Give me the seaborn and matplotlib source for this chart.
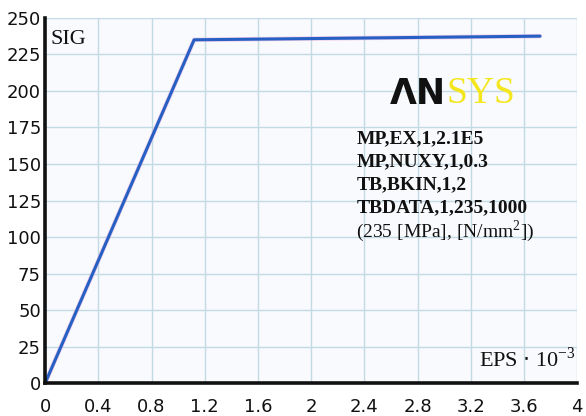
import pandas as pd
import matplotlib.pyplot as plt
import seaborn as sns

# stress-strain curve
eps = [0.0, 1.12, 3.72]        # strain * 10^-3
sig = [0.0, 235.0, 237.5]      # stress [MPa]
x_ticks = [0, 0.4, 0.8, 1.2, 1.6, 2, 2.4, 2.8, 3.2, 3.6, 4]
x_labels = ["0", "0.4", "0.8", "1.2", "1.6", "2", "2.4", "2.8", "3.2", "3.6", "4"]
y_ticks = [0, 25, 50, 75, 100, 125, 150, 175, 200, 225, 250]
commands = ["MP,EX,1,2.1E5", "MP,NUXY,1,0.3", "TB,BKIN,1,2", "TBDATA,1,235,1000"]

df = pd.DataFrame({"EPS": eps, "SIG": sig})

sns.set_style("whitegrid")
plt.rcParams["font.family"] = ["DejaVu Sans"]

fig = plt.figure(figsize=(5.86, 4.16), dpi=100)
ax = fig.add_axes([0.077, 0.079, 0.908, 0.878])
ax.set_facecolor("#f9fafd")

# faint pinkish halo under the blue line
sns.lineplot(data=df, x="EPS", y="SIG", ax=ax, color="#e8b0dc", linewidth=3.2, alpha=0.6)
sns.lineplot(data=df, x="EPS", y="SIG", ax=ax, color="#2660c4", linewidth=2.2)

ax.set_xlim(0, 4)
ax.set_ylim(0, 250)
ax.set_xticks(x_ticks)
ax.set_xticklabels(x_labels)
ax.set_yticks(y_ticks)
ax.set_xlabel("")
ax.set_ylabel("")
ax.tick_params(length=0, labelsize=13, colors="#111111")
ax.tick_params(axis="x", pad=11)
ax.tick_params(axis="y", pad=3)
ax.grid(True, color="#c2dae4", linewidth=1.0)

for side in ["top", "right"]:
    ax.spines[side].set_visible(False)
for side in ["left", "bottom"]:
    ax.spines[side].set_color("#111111")
    ax.spines[side].set_linewidth(2.6)
    ax.spines[side].set_zorder(5)

serif = ["Liberation Serif", "DejaVu Serif"]
ax.text(0.01, 0.968, "SIG", transform=ax.transAxes, family=serif,
        fontsize=16, va="top", ha="left", color="#111111")
ax.text(0.998, 0.03, r"EPS $\cdot$ 10$^{\mathregular{-3}}$", transform=ax.transAxes,
        family=serif, fontsize=16, va="bottom", ha="right", color="#111111")

# ANSYS logo
logo = ax.text(0.648, 0.792, "ΛN", transform=ax.transAxes, family=["DejaVu Sans"],
               fontsize=25, fontweight="heavy", color="#111111", va="center", ha="left")
ax.annotate("SYS", xy=(1.0, 0.5), xycoords=logo, family=serif,
            fontsize=27, color="#f4e61e", va="center", ha="left")

y0 = 0.668
for i, line in enumerate(commands):
    ax.text(0.585, y0 - i * 0.063, line, transform=ax.transAxes, family=serif,
            fontsize=14, fontweight="bold", color="#111111", va="center", ha="left")
ax.text(0.585, y0 - 4 * 0.063, r"(235 [MPa], [N/mm$^{\mathregular{2}}$])",
        transform=ax.transAxes, family=serif, fontsize=14, color="#111111",
        va="center", ha="left")

fig.savefig("out.png", dpi=100, facecolor="white")
